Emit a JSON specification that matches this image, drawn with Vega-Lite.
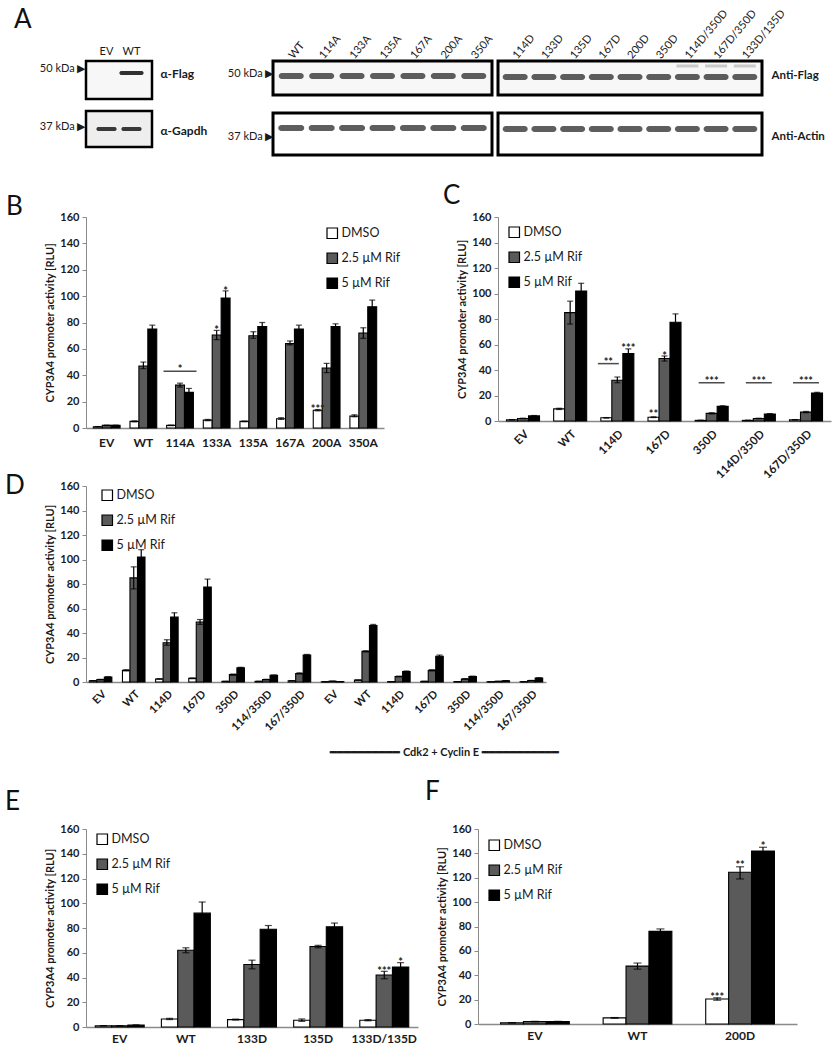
{
"$schema": "https://vega.github.io/schema/vega-lite/v6.json",
"padding": {"left": 5, "top": 5, "right": 5, "bottom": 5},
"config": {
  "font": "Lato",
  "view": {"stroke": null},
  "axis": {"labelFont": "Lato", "labelFontWeight": "bold", "labelFontSize": 11, "labelColor": "#1a1a1a", "titleFont": "Lato", "titleFontWeight": "bold", "titleFontSize": 11, "titleColor": "#1a1a1a", "domainColor": "#8a8a8a", "tickColor": "#8a8a8a", "grid": false, "labelOverlap": false},
  "axisQuantitative": {"tickCount": 8, "labelOverlap": false, "tickSize": 4, "labelPadding": 3, "titlePadding": 4},
  "legend": {"orient": "none", "labelFont": "Lato", "labelFontSize": 12.5, "labelColor": "#1a1a1a", "symbolType": "square", "symbolSize": 110, "symbolStrokeColor": "#000", "symbolStrokeWidth": 1.2, "rowPadding": 9, "labelOffset": 3},
  "title": {"font": "Lato", "fontSize": 26, "fontWeight": "normal", "anchor": "start", "frame": "group", "baseline": "alphabetic", "color": "#111"}
},
"datasets": {
  "sF": [{"lane": "WT", "mw": "50 kDa ▶", "ab": "α-Flag"}],
  "sG": [{"lane": "EV", "mw": "37 kDa ▶", "ab": "α-Gapdh"}, {"lane": "WT", "mw": "37 kDa ▶", "ab": "α-Gapdh"}],
  "bL": [
    {"lane": "WT", "mw": "50 kDa ▶", "mw2": "37 kDa ▶"}, {"lane": "114A", "mw": "50 kDa ▶", "mw2": "37 kDa ▶"},
    {"lane": "133A", "mw": "50 kDa ▶", "mw2": "37 kDa ▶"}, {"lane": "135A", "mw": "50 kDa ▶", "mw2": "37 kDa ▶"},
    {"lane": "167A", "mw": "50 kDa ▶", "mw2": "37 kDa ▶"}, {"lane": "200A", "mw": "50 kDa ▶", "mw2": "37 kDa ▶"},
    {"lane": "350A", "mw": "50 kDa ▶", "mw2": "37 kDa ▶"}],
  "bR": [
    {"lane": "114D", "ab": "Anti-Flag", "ab2": "Anti-Actin"}, {"lane": "133D", "ab": "Anti-Flag", "ab2": "Anti-Actin"},
    {"lane": "135D", "ab": "Anti-Flag", "ab2": "Anti-Actin"}, {"lane": "167D", "ab": "Anti-Flag", "ab2": "Anti-Actin"},
    {"lane": "200D", "ab": "Anti-Flag", "ab2": "Anti-Actin"}, {"lane": "350D", "ab": "Anti-Flag", "ab2": "Anti-Actin"},
    {"lane": "114D/350D", "ab": "Anti-Flag", "ab2": "Anti-Actin"}, {"lane": "167D/350D", "ab": "Anti-Flag", "ab2": "Anti-Actin"},
    {"lane": "133D/135D", "ab": "Anti-Flag", "ab2": "Anti-Actin"}],
  "bRf": [{"lane": "114D/350D", "ab": "Anti-Flag"}, {"lane": "167D/350D", "ab": "Anti-Flag"}, {"lane": "133D/135D", "ab": "Anti-Flag"}],
  "B": [
    {"g": "EV", "t": "DMSO", "v": 1, "lo": 0.9, "hi": 1.1}, {"g": "EV", "t": "2.5 µM Rif", "v": 2, "lo": 1.8, "hi": 2.2}, {"g": "EV", "t": "5 µM Rif", "v": 2, "lo": 1.8, "hi": 2.2},
    {"g": "WT", "t": "DMSO", "v": 5, "lo": 4.6, "hi": 5.4}, {"g": "WT", "t": "2.5 µM Rif", "v": 47, "lo": 45, "hi": 50}, {"g": "WT", "t": "5 µM Rif", "v": 75, "lo": 72, "hi": 78},
    {"g": "114A", "t": "DMSO", "v": 2, "lo": 1.8, "hi": 2.2}, {"g": "114A", "t": "2.5 µM Rif", "v": 32.5, "lo": 31, "hi": 34}, {"g": "114A", "t": "5 µM Rif", "v": 27, "lo": 24, "hi": 30},
    {"g": "133A", "t": "DMSO", "v": 6, "lo": 5.5, "hi": 6.5}, {"g": "133A", "t": "2.5 µM Rif", "v": 70.5, "lo": 67, "hi": 74}, {"g": "133A", "t": "5 µM Rif", "v": 98.5, "lo": 93, "hi": 104},
    {"g": "135A", "t": "DMSO", "v": 5, "lo": 4.7, "hi": 5.3}, {"g": "135A", "t": "2.5 µM Rif", "v": 70, "lo": 68, "hi": 73}, {"g": "135A", "t": "5 µM Rif", "v": 77, "lo": 75, "hi": 80},
    {"g": "167A", "t": "DMSO", "v": 7, "lo": 6.5, "hi": 7.8}, {"g": "167A", "t": "2.5 µM Rif", "v": 64, "lo": 63, "hi": 66}, {"g": "167A", "t": "5 µM Rif", "v": 75, "lo": 72, "hi": 78},
    {"g": "200A", "t": "DMSO", "v": 13.5, "lo": 13, "hi": 14}, {"g": "200A", "t": "2.5 µM Rif", "v": 45.5, "lo": 42, "hi": 49}, {"g": "200A", "t": "5 µM Rif", "v": 77, "lo": 75, "hi": 79},
    {"g": "350A", "t": "DMSO", "v": 9, "lo": 8.5, "hi": 10}, {"g": "350A", "t": "2.5 µM Rif", "v": 72, "lo": 68, "hi": 76}, {"g": "350A", "t": "5 µM Rif", "v": 92, "lo": 88, "hi": 97}],
  "Bs": [{"g": "133A", "t": "2.5 µM Rif", "s": "*", "y": 75}, {"g": "133A", "t": "5 µM Rif", "s": "*", "y": 105}, {"g": "200A", "t": "DMSO", "s": "***", "y": 15}],
  "Bl": [{"g": "114A", "y": 43, "s": "*"}],
  "C": [
    {"g": "EV", "t": "DMSO", "v": 1, "lo": 0.9, "hi": 1.1}, {"g": "EV", "t": "2.5 µM Rif", "v": 2, "lo": 1.8, "hi": 2.2}, {"g": "EV", "t": "5 µM Rif", "v": 4, "lo": 3.7, "hi": 4.3},
    {"g": "WT", "t": "DMSO", "v": 9.5, "lo": 9, "hi": 10}, {"g": "WT", "t": "2.5 µM Rif", "v": 85, "lo": 76, "hi": 94}, {"g": "WT", "t": "5 µM Rif", "v": 102, "lo": 96, "hi": 108},
    {"g": "114D", "t": "DMSO", "v": 2.5, "lo": 2.3, "hi": 2.7}, {"g": "114D", "t": "2.5 µM Rif", "v": 32, "lo": 30, "hi": 34.5}, {"g": "114D", "t": "5 µM Rif", "v": 53, "lo": 49.5, "hi": 56.5},
    {"g": "167D", "t": "DMSO", "v": 3, "lo": 2.7, "hi": 3.3}, {"g": "167D", "t": "2.5 µM Rif", "v": 49, "lo": 47, "hi": 51}, {"g": "167D", "t": "5 µM Rif", "v": 77.5, "lo": 72, "hi": 84},
    {"g": "350D", "t": "DMSO", "v": 0.5, "lo": 0.4, "hi": 0.6}, {"g": "350D", "t": "2.5 µM Rif", "v": 6, "lo": 5.5, "hi": 6.5}, {"g": "350D", "t": "5 µM Rif", "v": 11.5, "lo": 11, "hi": 12},
    {"g": "114D/350D", "t": "DMSO", "v": 0.5, "lo": 0.4, "hi": 0.6}, {"g": "114D/350D", "t": "2.5 µM Rif", "v": 2, "lo": 1.8, "hi": 2.2}, {"g": "114D/350D", "t": "5 µM Rif", "v": 5.5, "lo": 5.2, "hi": 5.8},
    {"g": "167D/350D", "t": "DMSO", "v": 1, "lo": 0.9, "hi": 1.1}, {"g": "167D/350D", "t": "2.5 µM Rif", "v": 7, "lo": 6.5, "hi": 7.5}, {"g": "167D/350D", "t": "5 µM Rif", "v": 22, "lo": 21.5, "hi": 22.5}],
  "Cs": [{"g": "114D", "t": "5 µM Rif", "s": "***", "y": 58}, {"g": "167D", "t": "2.5 µM Rif", "s": "*", "y": 52}, {"g": "167D", "t": "DMSO", "s": "**", "y": 6}],
  "Cl": [{"g": "350D", "y": 30, "s": "***"}, {"g": "114D/350D", "y": 30, "s": "***"}, {"g": "167D/350D", "y": 30, "s": "***"}],
  "Cl2": [{"g": "114D", "y": 45, "s": "**"}],
  "D": [
    {"g": "EV|1", "t": "DMSO", "v": 1, "lo": 0.9, "hi": 1.1}, {"g": "EV|1", "t": "2.5 µM Rif", "v": 2, "lo": 1.8, "hi": 2.2}, {"g": "EV|1", "t": "5 µM Rif", "v": 4, "lo": 3.7, "hi": 4.3},
    {"g": "WT|1", "t": "DMSO", "v": 9.5, "lo": 9, "hi": 10}, {"g": "WT|1", "t": "2.5 µM Rif", "v": 85, "lo": 76, "hi": 94}, {"g": "WT|1", "t": "5 µM Rif", "v": 102, "lo": 96, "hi": 108},
    {"g": "114D|1", "t": "DMSO", "v": 2.5, "lo": 2.3, "hi": 2.7}, {"g": "114D|1", "t": "2.5 µM Rif", "v": 32, "lo": 30, "hi": 34.5}, {"g": "114D|1", "t": "5 µM Rif", "v": 53, "lo": 49.5, "hi": 56.5},
    {"g": "167D|1", "t": "DMSO", "v": 3, "lo": 2.7, "hi": 3.3}, {"g": "167D|1", "t": "2.5 µM Rif", "v": 49, "lo": 47, "hi": 51}, {"g": "167D|1", "t": "5 µM Rif", "v": 77.5, "lo": 72, "hi": 84},
    {"g": "350D|1", "t": "DMSO", "v": 0.5, "lo": 0.4, "hi": 0.6}, {"g": "350D|1", "t": "2.5 µM Rif", "v": 6, "lo": 5.5, "hi": 6.5}, {"g": "350D|1", "t": "5 µM Rif", "v": 11.5, "lo": 11, "hi": 12},
    {"g": "114/350D|1", "t": "DMSO", "v": 0.5, "lo": 0.4, "hi": 0.6}, {"g": "114/350D|1", "t": "2.5 µM Rif", "v": 2, "lo": 1.8, "hi": 2.2}, {"g": "114/350D|1", "t": "5 µM Rif", "v": 5.5, "lo": 5.2, "hi": 5.8},
    {"g": "167/350D|1", "t": "DMSO", "v": 1, "lo": 0.9, "hi": 1.1}, {"g": "167/350D|1", "t": "2.5 µM Rif", "v": 7, "lo": 6.5, "hi": 7.5}, {"g": "167/350D|1", "t": "5 µM Rif", "v": 22, "lo": 21.5, "hi": 22.5},
    {"g": "EV|2", "t": "DMSO", "v": 0.2, "lo": 0.2, "hi": 0.2}, {"g": "EV|2", "t": "2.5 µM Rif", "v": 0.6, "lo": 0.5, "hi": 0.7}, {"g": "EV|2", "t": "5 µM Rif", "v": 0.3, "lo": 0.3, "hi": 0.3},
    {"g": "WT|2", "t": "DMSO", "v": 1.5, "lo": 1.3, "hi": 1.7}, {"g": "WT|2", "t": "2.5 µM Rif", "v": 25, "lo": 24.5, "hi": 25.5}, {"g": "WT|2", "t": "5 µM Rif", "v": 46, "lo": 45, "hi": 47},
    {"g": "114D|2", "t": "DMSO", "v": 0.3, "lo": 0.3, "hi": 0.3}, {"g": "114D|2", "t": "2.5 µM Rif", "v": 4.5, "lo": 4.2, "hi": 4.8}, {"g": "114D|2", "t": "5 µM Rif", "v": 8.5, "lo": 8, "hi": 9},
    {"g": "167D|2", "t": "DMSO", "v": 0.5, "lo": 0.4, "hi": 0.6}, {"g": "167D|2", "t": "2.5 µM Rif", "v": 9.5, "lo": 9, "hi": 10}, {"g": "167D|2", "t": "5 µM Rif", "v": 21, "lo": 20, "hi": 22},
    {"g": "350D|2", "t": "DMSO", "v": 0.3, "lo": 0.3, "hi": 0.3}, {"g": "350D|2", "t": "2.5 µM Rif", "v": 2.5, "lo": 2.3, "hi": 2.7}, {"g": "350D|2", "t": "5 µM Rif", "v": 4.5, "lo": 4.2, "hi": 4.8},
    {"g": "114/350D|2", "t": "DMSO", "v": 0.2, "lo": 0.2, "hi": 0.2}, {"g": "114/350D|2", "t": "2.5 µM Rif", "v": 0.5, "lo": 0.4, "hi": 0.6}, {"g": "114/350D|2", "t": "5 µM Rif", "v": 1, "lo": 0.9, "hi": 1.1},
    {"g": "167/350D|2", "t": "DMSO", "v": 0.3, "lo": 0.3, "hi": 0.3}, {"g": "167/350D|2", "t": "2.5 µM Rif", "v": 1.2, "lo": 1.1, "hi": 1.3}, {"g": "167/350D|2", "t": "5 µM Rif", "v": 3.2, "lo": 3, "hi": 3.4}],
  "E": [
    {"g": "EV", "t": "DMSO", "v": 1, "lo": 0.9, "hi": 1.1}, {"g": "EV", "t": "2.5 µM Rif", "v": 1, "lo": 0.9, "hi": 1.1}, {"g": "EV", "t": "5 µM Rif", "v": 1.5, "lo": 1.3, "hi": 1.7},
    {"g": "WT", "t": "DMSO", "v": 6.5, "lo": 6, "hi": 7}, {"g": "WT", "t": "2.5 µM Rif", "v": 62, "lo": 60, "hi": 64}, {"g": "WT", "t": "5 µM Rif", "v": 92, "lo": 83, "hi": 101},
    {"g": "133D", "t": "DMSO", "v": 6, "lo": 5.6, "hi": 6.4}, {"g": "133D", "t": "2.5 µM Rif", "v": 50.5, "lo": 47, "hi": 54}, {"g": "133D", "t": "5 µM Rif", "v": 79, "lo": 76, "hi": 82},
    {"g": "135D", "t": "DMSO", "v": 5.5, "lo": 4.5, "hi": 6.5}, {"g": "135D", "t": "2.5 µM Rif", "v": 65, "lo": 64, "hi": 66}, {"g": "135D", "t": "5 µM Rif", "v": 81, "lo": 78, "hi": 84},
    {"g": "133D/135D", "t": "DMSO", "v": 5.5, "lo": 5, "hi": 6}, {"g": "133D/135D", "t": "2.5 µM Rif", "v": 42, "lo": 39, "hi": 45}, {"g": "133D/135D", "t": "5 µM Rif", "v": 48.5, "lo": 45, "hi": 52}],
  "Es": [{"g": "133D/135D", "t": "2.5 µM Rif", "s": "***", "y": 46}, {"g": "133D/135D", "t": "5 µM Rif", "s": "*", "y": 53}],
  "F": [
    {"g": "EV", "t": "DMSO", "v": 1, "lo": 0.9, "hi": 1.1}, {"g": "EV", "t": "2.5 µM Rif", "v": 2, "lo": 1.8, "hi": 2.2}, {"g": "EV", "t": "5 µM Rif", "v": 2, "lo": 1.8, "hi": 2.2},
    {"g": "WT", "t": "DMSO", "v": 5, "lo": 4.7, "hi": 5.3}, {"g": "WT", "t": "2.5 µM Rif", "v": 47.5, "lo": 45, "hi": 50}, {"g": "WT", "t": "5 µM Rif", "v": 76, "lo": 74, "hi": 78},
    {"g": "200D", "t": "DMSO", "v": 20.5, "lo": 19.5, "hi": 21.5}, {"g": "200D", "t": "2.5 µM Rif", "v": 124.5, "lo": 119, "hi": 129}, {"g": "200D", "t": "5 µM Rif", "v": 142, "lo": 139, "hi": 145}],
  "Fs": [{"g": "200D", "t": "DMSO", "s": "***", "y": 23}, {"g": "200D", "t": "2.5 µM Rif", "s": "**", "y": 131}, {"g": "200D", "t": "5 µM Rif", "s": "*", "y": 147}]
},
"resolve": {"scale": {"x": "independent", "y": "independent", "color": "independent", "xOffset": "independent"}},
"spacing": 22,
"vconcat": [
 {
  "resolve": {"scale": {"x": "independent", "y": "independent", "color": "independent", "xOffset": "independent"}},
  "spacing": 26,
  "vconcat": [
   {
    "resolve": {"scale": {"x": "independent", "y": "independent"}},
    "spacing": 16,
    "hconcat": [
     {
      "resolve": {"scale": {"x": "independent", "y": "independent"}},
      "spacing": 12,
      "bounds": "flush",
      "vconcat": [
       {
        "width": 66, "height": 38,
        "title": {"text": "A", "dx": -72, "offset": 12},
        "view": {"stroke": "#000", "strokeWidth": 2.5, "fill": "#f7f7f7"},
        "data": {"name": "sF"},
        "resolve": {"scale": {"y": "independent"}},
        "layer": [
         {"mark": {"type": "tick", "orient": "horizontal", "size": 24, "thickness": 4, "color": "#1e1e1e", "cornerRadius": 2, "yOffset": -7},
          "encoding": {
           "x": {"field": "lane", "type": "nominal", "scale": {"domain": ["EV", "WT"], "paddingInner": 0, "paddingOuter": 0.32}, "axis": {"orient": "top", "title": null, "labelAngle": 0, "domain": false, "ticks": false, "labelFontWeight": "normal", "labelFontSize": 11, "labelPadding": 5}},
           "y": {"field": "mw", "type": "nominal", "axis": {"orient": "left", "title": null, "domain": false, "ticks": false, "labelFontWeight": "normal", "labelFontSize": 11, "labelPadding": 1, "labelOffset": -11}}}},
         {"mark": {"type": "tick", "orient": "horizontal", "size": 24, "thickness": 4, "color": "#1e1e1e", "cornerRadius": 2, "yOffset": -7},
          "encoding": {
           "x": {"field": "lane", "type": "nominal"},
           "y": {"field": "ab", "type": "nominal", "axis": {"orient": "right", "title": null, "domain": false, "ticks": false, "labelFontSize": 12, "labelPadding": 8, "labelOffset": -6}}}}
        ]
       },
       {
        "width": 66, "height": 36,
        "view": {"stroke": "#000", "strokeWidth": 2.5, "fill": "#eeeeee"},
        "data": {"name": "sG"},
        "resolve": {"scale": {"y": "independent"}},
        "layer": [
         {"mark": {"type": "tick", "orient": "horizontal", "size": 20, "thickness": 4, "color": "#262626", "cornerRadius": 2},
          "encoding": {
           "x": {"field": "lane", "type": "nominal", "scale": {"domain": ["EV", "WT"], "paddingInner": 0, "paddingOuter": 0.32}, "axis": null},
           "y": {"field": "mw", "type": "nominal", "axis": {"orient": "left", "title": null, "domain": false, "ticks": false, "labelFontWeight": "normal", "labelFontSize": 11, "labelPadding": 1, "labelOffset": -2}}}},
         {"mark": {"type": "tick", "orient": "horizontal", "size": 20, "thickness": 4, "color": "#262626", "cornerRadius": 2},
          "encoding": {
           "x": {"field": "lane", "type": "nominal"},
           "y": {"field": "ab", "type": "nominal", "axis": {"orient": "right", "title": null, "domain": false, "ticks": false, "labelFontSize": 12, "labelPadding": 8, "labelOffset": 2}}}}
        ]
       }
      ]
     },
     {
      "resolve": {"scale": {"x": "independent", "y": "independent"}},
      "spacing": 14,
      "vconcat": [
       {
        "resolve": {"scale": {"x": "independent", "y": "independent"}},
        "spacing": 6,
        "bounds": "flush",
        "hconcat": [
         {
          "width": 219, "height": 34,
          "view": {"stroke": "#000", "strokeWidth": 3, "fill": "#f7f7f7"},
          "data": {"name": "bL"},
          "mark": {"type": "tick", "orient": "horizontal", "size": 25, "thickness": 6, "color": "#1a1a1a", "cornerRadius": 3, "yOffset": -2},
          "encoding": {
           "x": {"field": "lane", "type": "nominal", "sort": null, "scale": {"paddingInner": 0, "paddingOuter": 0.1}, "axis": {"orient": "top", "title": null, "labelAngle": -50, "labelAlign": "left", "labelBaseline": "middle", "domain": false, "ticks": false, "labelFontWeight": "normal", "labelFontSize": 11, "labelPadding": 4}},
           "y": {"field": "mw", "type": "nominal", "axis": {"orient": "left", "title": null, "domain": false, "ticks": false, "labelFontWeight": "normal", "labelFontSize": 11, "labelPadding": 0, "labelOffset": -4}}}
         },
         {
          "width": 264, "height": 34,
          "view": {"stroke": "#000", "strokeWidth": 3, "fill": "#f7f7f7"},
          "layer": [
           {"data": {"name": "bR"},
            "mark": {"type": "tick", "orient": "horizontal", "size": 25, "thickness": 6, "color": "#1a1a1a", "cornerRadius": 3, "yOffset": -1},
            "encoding": {
             "x": {"field": "lane", "type": "nominal", "sort": null, "scale": {"domain": ["114D", "133D", "135D", "167D", "200D", "350D", "114D/350D", "167D/350D", "133D/135D"], "paddingInner": 0, "paddingOuter": 0.1}, "axis": {"orient": "top", "title": null, "labelAngle": -50, "labelAlign": "left", "labelBaseline": "middle", "domain": false, "ticks": false, "labelFontWeight": "normal", "labelFontSize": 11, "labelPadding": 4}},
             "y": {"field": "ab", "type": "nominal", "axis": {"orient": "right", "title": null, "domain": false, "ticks": false, "labelFontSize": 11.5, "labelPadding": 9, "labelOffset": -2}}}},
           {"data": {"name": "bRf"},
            "mark": {"type": "tick", "orient": "horizontal", "size": 22, "thickness": 3, "color": "#1a1a1a", "opacity": 0.2, "yOffset": -12},
            "encoding": {
             "x": {"field": "lane", "type": "nominal"},
             "y": {"field": "ab", "type": "nominal"}}}
          ]
         }
        ]
       },
       {
        "resolve": {"scale": {"x": "independent", "y": "independent"}},
        "spacing": 6,
        "bounds": "flush",
        "hconcat": [
         {
          "width": 219, "height": 42,
          "view": {"stroke": "#000", "strokeWidth": 3, "fill": "#ffffff"},
          "data": {"name": "bL"},
          "mark": {"type": "tick", "orient": "horizontal", "size": 26, "thickness": 6, "color": "#1a1a1a", "cornerRadius": 3, "yOffset": -6},
          "encoding": {
           "x": {"field": "lane", "type": "nominal", "sort": null, "scale": {"paddingInner": 0, "paddingOuter": 0.1}, "axis": null},
           "y": {"field": "mw2", "type": "nominal", "axis": {"orient": "left", "title": null, "domain": false, "ticks": false, "labelFontWeight": "normal", "labelFontSize": 11, "labelPadding": 0, "labelOffset": 3}}}
         },
         {
          "width": 264, "height": 42,
          "view": {"stroke": "#000", "strokeWidth": 3, "fill": "#ffffff"},
          "data": {"name": "bR"},
          "mark": {"type": "tick", "orient": "horizontal", "size": 25, "thickness": 6, "color": "#1a1a1a", "cornerRadius": 3, "yOffset": -5},
          "encoding": {
           "x": {"field": "lane", "type": "nominal", "sort": null, "scale": {"domain": ["114D", "133D", "135D", "167D", "200D", "350D", "114D/350D", "167D/350D", "133D/135D"], "paddingInner": 0, "paddingOuter": 0.1}, "axis": null},
           "y": {"field": "ab2", "type": "nominal", "axis": {"orient": "right", "title": null, "domain": false, "ticks": false, "labelFontSize": 11.5, "labelPadding": 9, "labelOffset": 3}}}
         }
        ]
       }
      ]
     }
    ]
   },
   {
    "resolve": {"scale": {"x": "independent", "y": "independent", "color": "independent", "xOffset": "independent"}},
    "spacing": -8,
    "vconcat": [
     {
      "resolve": {"scale": {"x": "independent", "y": "independent", "color": "independent", "xOffset": "independent"}},
      "spacing": 42,
      "hconcat": [
       {
        "width": 298, "height": 211,
        "title": {"text": "B", "dx": -80, "offset": -9},
        "layer": [
         {"data": {"name": "B"}, "mark": {"type": "bar", "stroke": "#000", "strokeWidth": 1.1},
          "encoding": {
           "x": {"field": "g", "type": "nominal", "scale": {"domain": ["EV", "WT", "114A", "133A", "135A", "167A", "200A", "350A"], "paddingInner": 0.27, "paddingOuter": 0.2}, "axis": {"title": null, "labelAngle": 0, "ticks": false, "labelFontSize": 12, "labelPadding": 9, "domainWidth": 1.5}},
           "xOffset": {"field": "t", "type": "nominal", "scale": {"domain": ["DMSO", "2.5 µM Rif", "5 µM Rif"]}},
           "y": {"field": "v", "type": "quantitative", "scale": {"domain": [0, 160], "nice": false}, "axis": {"title": "CYP3A4 promoter activity [RLU]", "tickCount": 8}},
           "color": {"field": "t", "type": "nominal", "scale": {"domain": ["DMSO", "2.5 µM Rif", "5 µM Rif"], "range": ["#ffffff", "#5a5a5a", "#000000"]}, "legend": {"title": null, "legendX": 240, "legendY": 10}}}},
         {"data": {"name": "B"}, "mark": {"type": "rule", "color": "#000", "strokeWidth": 1.2},
          "encoding": {"x": {"field": "g", "type": "nominal"}, "xOffset": {"field": "t", "type": "nominal"}, "y": {"field": "lo", "type": "quantitative"}, "y2": {"field": "hi"}}},
         {"data": {"name": "B"}, "mark": {"type": "tick", "orient": "horizontal", "color": "#000", "thickness": 1.2, "size": 6},
          "encoding": {"x": {"field": "g", "type": "nominal"}, "xOffset": {"field": "t", "type": "nominal"}, "y": {"field": "hi", "type": "quantitative"}}},
         {"data": {"name": "B"}, "mark": {"type": "tick", "orient": "horizontal", "color": "#000", "thickness": 1.2, "size": 6},
          "encoding": {"x": {"field": "g", "type": "nominal"}, "xOffset": {"field": "t", "type": "nominal"}, "y": {"field": "lo", "type": "quantitative"}}},
         {"data": {"name": "Bs"}, "mark": {"type": "text", "baseline": "alphabetic", "fontSize": 11, "fontWeight": "bold", "color": "#222", "dy": 5},
          "encoding": {"x": {"field": "g", "type": "nominal"}, "xOffset": {"field": "t", "type": "nominal"}, "y": {"field": "y", "type": "quantitative"}, "text": {"field": "s"}}},
         {"data": {"name": "Bl"}, "mark": {"type": "tick", "orient": "horizontal", "size": 33, "thickness": 1.5, "color": "#000"},
          "encoding": {"x": {"field": "g", "type": "nominal"}, "y": {"field": "y", "type": "quantitative"}}},
         {"data": {"name": "Bl"}, "mark": {"type": "text", "baseline": "alphabetic", "fontSize": 11, "fontWeight": "bold", "color": "#222", "dy": 2},
          "encoding": {"x": {"field": "g", "type": "nominal"}, "y": {"field": "y", "type": "quantitative"}, "text": {"field": "s"}}}
        ]
       },
       {
        "width": 333, "height": 204,
        "title": {"text": "C", "dx": -55, "offset": 2},
        "layer": [
         {"data": {"name": "C"}, "mark": {"type": "bar", "stroke": "#000", "strokeWidth": 1.1},
          "encoding": {
           "x": {"field": "g", "type": "nominal", "scale": {"domain": ["EV", "WT", "114D", "167D", "350D", "114D/350D", "167D/350D"], "paddingInner": 0.3, "paddingOuter": 0.18}, "axis": {"title": null, "labelAngle": -45, "ticks": false, "labelFontSize": 11.5, "labelPadding": 7, "domainWidth": 1.5}},
           "xOffset": {"field": "t", "type": "nominal", "scale": {"domain": ["DMSO", "2.5 µM Rif", "5 µM Rif"]}},
           "y": {"field": "v", "type": "quantitative", "scale": {"domain": [0, 160], "nice": false}, "axis": {"title": "CYP3A4 promoter activity [RLU]", "tickCount": 8}},
           "color": {"field": "t", "type": "nominal", "scale": {"domain": ["DMSO", "2.5 µM Rif", "5 µM Rif"], "range": ["#ffffff", "#5a5a5a", "#000000"]}, "legend": {"title": null, "legendX": 10, "legendY": 9}}}},
         {"data": {"name": "C"}, "mark": {"type": "rule", "color": "#000", "strokeWidth": 1.2},
          "encoding": {"x": {"field": "g", "type": "nominal"}, "xOffset": {"field": "t", "type": "nominal"}, "y": {"field": "lo", "type": "quantitative"}, "y2": {"field": "hi"}}},
         {"data": {"name": "C"}, "mark": {"type": "tick", "orient": "horizontal", "color": "#000", "thickness": 1.2, "size": 6},
          "encoding": {"x": {"field": "g", "type": "nominal"}, "xOffset": {"field": "t", "type": "nominal"}, "y": {"field": "hi", "type": "quantitative"}}},
         {"data": {"name": "C"}, "mark": {"type": "tick", "orient": "horizontal", "color": "#000", "thickness": 1.2, "size": 6},
          "encoding": {"x": {"field": "g", "type": "nominal"}, "xOffset": {"field": "t", "type": "nominal"}, "y": {"field": "lo", "type": "quantitative"}}},
         {"data": {"name": "Cs"}, "mark": {"type": "text", "baseline": "alphabetic", "fontSize": 11, "fontWeight": "bold", "color": "#222", "dy": 5},
          "encoding": {"x": {"field": "g", "type": "nominal"}, "xOffset": {"field": "t", "type": "nominal"}, "y": {"field": "y", "type": "quantitative"}, "text": {"field": "s"}}},
         {"data": {"name": "Cl"}, "mark": {"type": "tick", "orient": "horizontal", "size": 26, "thickness": 1.5, "color": "#000"},
          "encoding": {"x": {"field": "g", "type": "nominal"}, "y": {"field": "y", "type": "quantitative"}}},
         {"data": {"name": "Cl"}, "mark": {"type": "text", "baseline": "alphabetic", "fontSize": 11, "fontWeight": "bold", "color": "#222", "dy": 2},
          "encoding": {"x": {"field": "g", "type": "nominal"}, "y": {"field": "y", "type": "quantitative"}, "text": {"field": "s"}}},
         {"data": {"name": "Cl2"}, "mark": {"type": "tick", "orient": "horizontal", "size": 21, "thickness": 1.5, "color": "#000", "xOffset": -9},
          "encoding": {"x": {"field": "g", "type": "nominal"}, "y": {"field": "y", "type": "quantitative"}}},
         {"data": {"name": "Cl2"}, "mark": {"type": "text", "baseline": "alphabetic", "fontSize": 11, "fontWeight": "bold", "color": "#222", "dy": 2, "dx": -9},
          "encoding": {"x": {"field": "g", "type": "nominal"}, "y": {"field": "y", "type": "quantitative"}, "text": {"field": "s"}}}
        ]
       }
      ]
     },
     {
      "width": 460, "height": 196,
      "title": {"text": "D", "dx": -81, "offset": -19},
      "layer": [
       {"data": {"name": "D"}, "mark": {"type": "bar", "stroke": "#000", "strokeWidth": 1.1},
        "encoding": {
         "x": {"field": "g", "type": "nominal", "sort": null, "scale": {"paddingInner": 0.32, "paddingOuter": 0.1}, "axis": {"title": "━━━━━━━━━━   Cdk2 + Cyclin E   ━━━━━━━━━━━", "titleX": 358, "titleY": 70, "titleAlign": "center", "titleBaseline": "middle", "titleAngle": 0, "labelExpr": "split(datum.label, '|')[0]", "labelAngle": -45, "ticks": false, "labelFontSize": 11, "labelPadding": 6, "domainWidth": 1.5}},
         "xOffset": {"field": "t", "type": "nominal", "scale": {"domain": ["DMSO", "2.5 µM Rif", "5 µM Rif"]}},
         "y": {"field": "v", "type": "quantitative", "scale": {"domain": [0, 160], "nice": false}, "axis": {"title": "CYP3A4 promoter activity [RLU]", "tickCount": 8}},
         "color": {"field": "t", "type": "nominal", "scale": {"domain": ["DMSO", "2.5 µM Rif", "5 µM Rif"], "range": ["#ffffff", "#5a5a5a", "#000000"]}, "legend": {"title": null, "legendX": 15, "legendY": 3}}}},
       {"data": {"name": "D"}, "mark": {"type": "rule", "color": "#000", "strokeWidth": 1.2},
        "encoding": {"x": {"field": "g", "type": "nominal", "sort": null}, "xOffset": {"field": "t", "type": "nominal"}, "y": {"field": "lo", "type": "quantitative"}, "y2": {"field": "hi"}}},
       {"data": {"name": "D"}, "mark": {"type": "tick", "orient": "horizontal", "color": "#000", "thickness": 1.2, "size": 6},
        "encoding": {"x": {"field": "g", "type": "nominal", "sort": null}, "xOffset": {"field": "t", "type": "nominal"}, "y": {"field": "hi", "type": "quantitative"}}},
       {"data": {"name": "D"}, "mark": {"type": "tick", "orient": "horizontal", "color": "#000", "thickness": 1.2, "size": 6},
        "encoding": {"x": {"field": "g", "type": "nominal", "sort": null}, "xOffset": {"field": "t", "type": "nominal"}, "y": {"field": "lo", "type": "quantitative"}}}
      ]
     }
    ]
   }
  ]
 },
 {
  "resolve": {"scale": {"x": "independent", "y": "independent", "color": "independent", "xOffset": "independent"}},
  "spacing": 7,
  "hconcat": [
   {
    "width": 332, "height": 198,
    "title": {"text": "E", "dx": -81, "offset": 8},
    "layer": [
     {"data": {"name": "E"}, "mark": {"type": "bar", "stroke": "#000", "strokeWidth": 1.1},
      "encoding": {
       "x": {"field": "g", "type": "nominal", "scale": {"domain": ["EV", "WT", "133D", "135D", "133D/135D"], "paddingInner": 0.26, "paddingOuter": 0.14}, "axis": {"title": null, "labelAngle": 0, "ticks": false, "labelFontSize": 12, "labelPadding": 6, "domainWidth": 1.5}},
       "xOffset": {"field": "t", "type": "nominal", "scale": {"domain": ["DMSO", "2.5 µM Rif", "5 µM Rif"]}},
       "y": {"field": "v", "type": "quantitative", "scale": {"domain": [0, 160], "nice": false}, "axis": {"title": "CYP3A4 promoter activity [RLU]", "tickCount": 8}},
       "color": {"field": "t", "type": "nominal", "scale": {"domain": ["DMSO", "2.5 µM Rif", "5 µM Rif"], "range": ["#ffffff", "#5a5a5a", "#000000"]}, "legend": {"title": null, "legendX": 10, "legendY": 4}}}},
     {"data": {"name": "E"}, "mark": {"type": "rule", "color": "#000", "strokeWidth": 1.2},
      "encoding": {"x": {"field": "g", "type": "nominal"}, "xOffset": {"field": "t", "type": "nominal"}, "y": {"field": "lo", "type": "quantitative"}, "y2": {"field": "hi"}}},
     {"data": {"name": "E"}, "mark": {"type": "tick", "orient": "horizontal", "color": "#000", "thickness": 1.2, "size": 7},
      "encoding": {"x": {"field": "g", "type": "nominal"}, "xOffset": {"field": "t", "type": "nominal"}, "y": {"field": "hi", "type": "quantitative"}}},
     {"data": {"name": "E"}, "mark": {"type": "tick", "orient": "horizontal", "color": "#000", "thickness": 1.2, "size": 7},
      "encoding": {"x": {"field": "g", "type": "nominal"}, "xOffset": {"field": "t", "type": "nominal"}, "y": {"field": "lo", "type": "quantitative"}}},
     {"data": {"name": "Es"}, "mark": {"type": "text", "baseline": "alphabetic", "fontSize": 11, "fontWeight": "bold", "color": "#222", "dy": 5},
      "encoding": {"x": {"field": "g", "type": "nominal"}, "xOffset": {"field": "t", "type": "nominal"}, "y": {"field": "y", "type": "quantitative"}, "text": {"field": "s"}}}
    ]
   },
   {
    "width": 319, "height": 195,
    "title": {"text": "F", "dx": -53, "offset": 18},
    "layer": [
     {"data": {"name": "F"}, "mark": {"type": "bar", "stroke": "#000", "strokeWidth": 1.1},
      "encoding": {
       "x": {"field": "g", "type": "nominal", "scale": {"domain": ["EV", "WT", "200D"], "paddingInner": 0.33, "paddingOuter": 0.22}, "axis": {"title": null, "labelAngle": 0, "ticks": false, "labelFontSize": 12, "labelPadding": 6, "domainWidth": 1.5}},
       "xOffset": {"field": "t", "type": "nominal", "scale": {"domain": ["DMSO", "2.5 µM Rif", "5 µM Rif"]}},
       "y": {"field": "v", "type": "quantitative", "scale": {"domain": [0, 160], "nice": false}, "axis": {"title": "CYP3A4 promoter activity [RLU]", "tickCount": 8}},
       "color": {"field": "t", "type": "nominal", "scale": {"domain": ["DMSO", "2.5 µM Rif", "5 µM Rif"], "range": ["#ffffff", "#5a5a5a", "#000000"]}, "legend": {"title": null, "legendX": 10, "legendY": 10}}}},
     {"data": {"name": "F"}, "mark": {"type": "rule", "color": "#000", "strokeWidth": 1.2},
      "encoding": {"x": {"field": "g", "type": "nominal"}, "xOffset": {"field": "t", "type": "nominal"}, "y": {"field": "lo", "type": "quantitative"}, "y2": {"field": "hi"}}},
     {"data": {"name": "F"}, "mark": {"type": "tick", "orient": "horizontal", "color": "#000", "thickness": 1.2, "size": 8},
      "encoding": {"x": {"field": "g", "type": "nominal"}, "xOffset": {"field": "t", "type": "nominal"}, "y": {"field": "hi", "type": "quantitative"}}},
     {"data": {"name": "F"}, "mark": {"type": "tick", "orient": "horizontal", "color": "#000", "thickness": 1.2, "size": 8},
      "encoding": {"x": {"field": "g", "type": "nominal"}, "xOffset": {"field": "t", "type": "nominal"}, "y": {"field": "lo", "type": "quantitative"}}},
     {"data": {"name": "Fs"}, "mark": {"type": "text", "baseline": "alphabetic", "fontSize": 11, "fontWeight": "bold", "color": "#222", "dy": 5},
      "encoding": {"x": {"field": "g", "type": "nominal"}, "xOffset": {"field": "t", "type": "nominal"}, "y": {"field": "y", "type": "quantitative"}, "text": {"field": "s"}}}
    ]
   }
  ]
 }
]
}
